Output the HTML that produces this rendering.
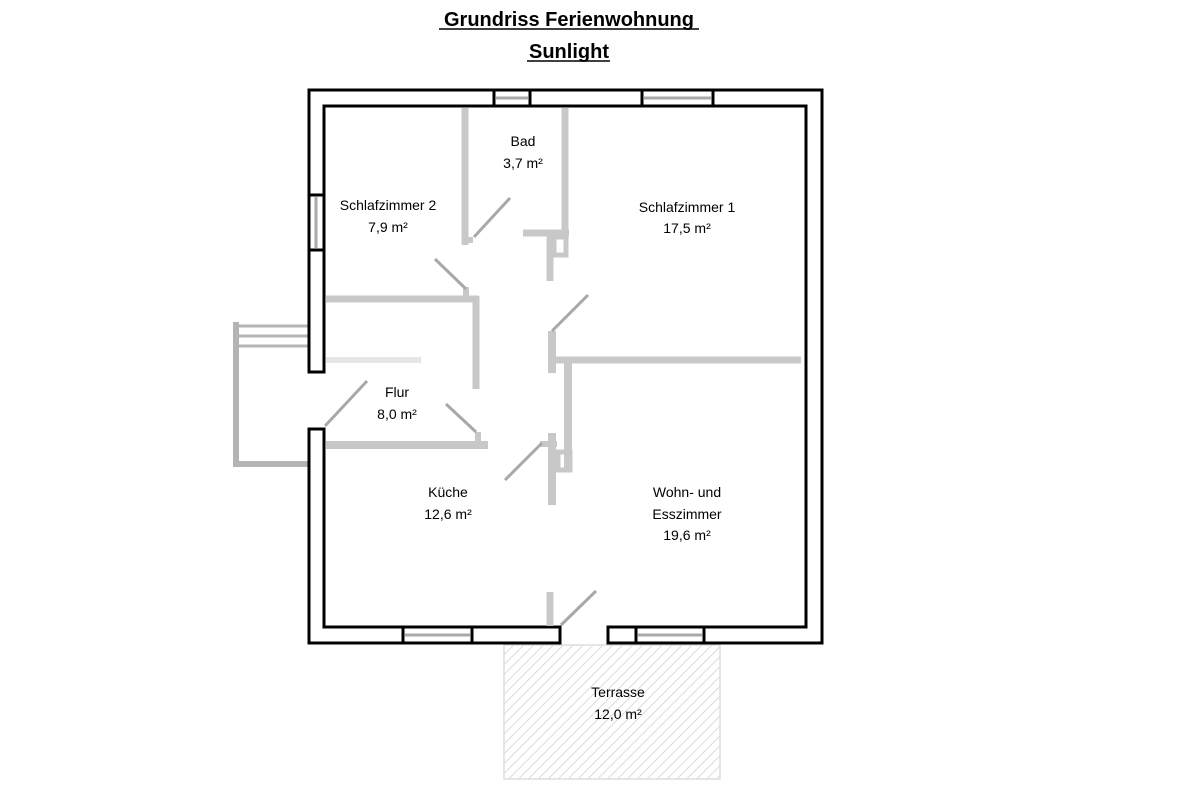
<!DOCTYPE html>
<html><head><meta charset="utf-8"><style>
body{margin:0;background:#fff;width:1200px;height:800px;overflow:hidden}
svg{display:block}
text{font-family:"Liberation Sans",sans-serif;fill:#000}
</style></head><body>
<svg width="1200" height="800" viewBox="0 0 1200 800">
<defs>
<pattern id="h" patternUnits="userSpaceOnUse" width="7" height="7" patternTransform="rotate(45)">
<line x1="0" y1="0" x2="0" y2="7" stroke="#cfcfcf" stroke-width="1.5"/>
</pattern>
</defs>
<text x="569" y="26" font-size="20" font-weight="bold" text-anchor="middle">Grundriss Ferienwohnung</text>
<line x1="439" y1="29" x2="699" y2="29" stroke="#000" stroke-width="1.5"/>
<text x="569" y="58" font-size="20" font-weight="bold" text-anchor="middle">Sunlight</text>
<line x1="527" y1="61" x2="610" y2="61" stroke="#000" stroke-width="1.5"/>

<rect x="504" y="645" width="216" height="134" fill="url(#h)" stroke="#ddd" stroke-width="1.5"/>

<g stroke="#b4b4b4">
<line x1="236" y1="322" x2="236" y2="467" stroke-width="6"/>
<line x1="233" y1="464" x2="309" y2="464" stroke-width="6"/>
<line x1="236" y1="326" x2="309" y2="326" stroke-width="3"/>
<line x1="236" y1="336" x2="309" y2="336" stroke-width="3"/>
<line x1="236" y1="346" x2="309" y2="346" stroke-width="3"/>
</g>

<g fill="#fff" stroke="#000" stroke-width="3">
<polygon points="309,372 309,90 822,90 822,643 608,643 608,627 806,627 806,106 324,106 324,372"/>
<polygon points="309,429 324,429 324,627 560,627 560,643 309,643"/>
</g>
<g stroke="#000" stroke-width="3">
<line x1="494" y1="90" x2="494" y2="106"/><line x1="530" y1="90" x2="530" y2="106"/>
<line x1="642" y1="90" x2="642" y2="106"/><line x1="713" y1="90" x2="713" y2="106"/>
<line x1="309" y1="195" x2="324" y2="195"/><line x1="309" y1="250" x2="324" y2="250"/>
<line x1="403" y1="627" x2="403" y2="643"/><line x1="472" y1="627" x2="472" y2="643"/>
<line x1="636" y1="627" x2="636" y2="643"/><line x1="704" y1="627" x2="704" y2="643"/>
</g>
<g stroke="#aaa" stroke-width="3">
<line x1="496" y1="98" x2="528" y2="98"/><line x1="644" y1="98" x2="711" y2="98"/>
<line x1="316" y1="197" x2="316" y2="248"/>
<line x1="405" y1="635" x2="470" y2="635"/><line x1="638" y1="635" x2="702" y2="635"/>
</g>

<g stroke="#c8c8c8" fill="none">
<line x1="465" y1="108" x2="465" y2="245" stroke-width="7"/>
<line x1="465" y1="240" x2="473" y2="240" stroke-width="6"/>
<line x1="565" y1="108" x2="565" y2="236" stroke-width="7"/>
<line x1="523" y1="233" x2="569" y2="233" stroke-width="7"/>
<line x1="550" y1="230" x2="550" y2="281" stroke-width="7"/>
<rect x="554" y="237" width="12" height="18" stroke-width="5"/>
<line x1="326" y1="299" x2="479" y2="299" stroke-width="7"/>
<line x1="476" y1="296" x2="476" y2="389" stroke-width="7"/>
<line x1="466" y1="287" x2="466" y2="297" stroke-width="6"/>
<line x1="552" y1="331" x2="552" y2="373" stroke-width="8"/>
<line x1="556" y1="360" x2="801" y2="360" stroke-width="7"/>
<line x1="568" y1="363" x2="568" y2="472" stroke-width="8"/>
<rect x="558" y="452" width="12" height="18" stroke-width="5"/>
<line x1="552" y1="433" x2="552" y2="505" stroke-width="8"/>
<line x1="540" y1="444" x2="557" y2="444" stroke-width="6"/>
<line x1="326" y1="445" x2="488" y2="445" stroke-width="8"/>
<line x1="478" y1="432" x2="478" y2="442" stroke-width="6"/>
<line x1="550" y1="592" x2="550" y2="626" stroke-width="7"/>
<line x1="326" y1="360" x2="421" y2="360" stroke="#e6e6e6" stroke-width="6"/>
</g>
<g stroke="#a8a8a8" stroke-width="3">
<line x1="474" y1="237" x2="510" y2="198"/>
<line x1="435" y1="259" x2="466" y2="289"/>
<line x1="552" y1="331" x2="588" y2="295"/>
<line x1="505" y1="480" x2="542" y2="443"/>
<line x1="446" y1="404" x2="476" y2="432"/>
<line x1="325" y1="426" x2="367" y2="381"/>
<line x1="561" y1="625" x2="596" y2="591"/>
</g>

<g font-size="14" text-anchor="middle">
<text x="523" y="146">Bad</text><text x="523" y="168">3,7 m²</text>
<text x="388" y="210">Schlafzimmer 2</text><text x="388" y="232">7,9 m²</text>
<text x="687" y="212">Schlafzimmer 1</text><text x="687" y="233">17,5 m²</text>
<text x="397" y="397">Flur</text><text x="397" y="419">8,0 m²</text>
<text x="448" y="497">Küche</text><text x="448" y="519">12,6 m²</text>
<text x="687" y="497">Wohn- und</text><text x="687" y="519">Esszimmer</text><text x="687" y="540">19,6 m²</text>
<text x="618" y="697">Terrasse</text><text x="618" y="719">12,0 m²</text>
</g>
</svg>
</body></html>
